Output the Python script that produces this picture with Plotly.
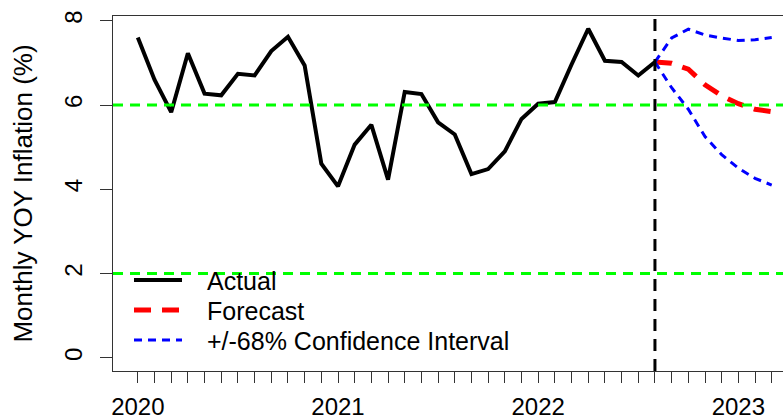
import plotly.graph_objects as go

# ---- data ----
start_year = 2020
actual_values = [7.60, 6.60, 5.83, 7.23, 6.27, 6.23, 6.74, 6.70, 7.28, 7.62, 6.94, 4.61,
                 4.07, 5.06, 5.53, 4.23, 6.31, 6.26, 5.59, 5.30, 4.36, 4.48, 4.90, 5.67,
                 6.03, 6.07, 6.96, 7.81, 7.05, 7.02, 6.70, 7.02]
forecast_start_index = 31  # Aug 2022
forecast_values = [7.02, 6.99, 6.85, 6.48, 6.22, 6.03, 5.90, 5.84]
ci_upper_values = [7.02, 7.59, 7.80, 7.66, 7.59, 7.53, 7.55, 7.60]
ci_lower_values = [7.02, 6.41, 5.90, 5.25, 4.82, 4.50, 4.26, 4.10]
target_levels = [2, 6]
n_tick_months = 39
year_labels = ["2020", "2021", "2022", "2023"]
y_ticks = [0, 2, 4, 6, 8]
legend_labels = ["Actual", "Forecast", "+/-68% Confidence Interval"]

FONT = "Liberation Sans, Arial, sans-serif"

ACTUAL_LINE = dict(color="black", width=4)
FC_LINE = dict(color="#FF0000", width=5, dash="17px,11px")
CI_LINE = dict(color="#0000FF", width=3, dash="8px,6px")


def t(i):
    return start_year + i / 12.0


x_actual = [t(i) for i in range(len(actual_values))]
x_fc = [t(forecast_start_index + i) for i in range(len(forecast_values))]

fig = go.Figure()
fig.add_trace(go.Scatter(x=x_actual, y=actual_values, mode="lines", name=legend_labels[0],
                         line=ACTUAL_LINE, showlegend=False))
fig.add_trace(go.Scatter(x=x_fc, y=forecast_values, mode="lines", name=legend_labels[1],
                         line=FC_LINE, showlegend=False))
fig.add_trace(go.Scatter(x=x_fc, y=ci_upper_values, mode="lines", name=legend_labels[2],
                         line=CI_LINE, showlegend=False))
fig.add_trace(go.Scatter(x=x_fc, y=ci_lower_values, mode="lines", name=legend_labels[2] + " (lower)",
                         line=CI_LINE, showlegend=False))

for lv in target_levels:
    fig.add_hline(y=lv, line=dict(color="#00FF00", width=3, dash="10px,7px"), layer="above")
fig.add_vline(x=t(forecast_start_index), line=dict(color="black", width=3, dash="12px,8px"),
              layer="above")

# ---- legend (R-style, no box) ----
plot_l, plot_w, plot_b, plot_h = 113, 670, 371, 355


def px_x(p):
    return (p - plot_l) / plot_w


def px_y(p):
    return (plot_b - p) / plot_h


legend_rows = [280, 310, 340]
legend_styles = [ACTUAL_LINE, FC_LINE, CI_LINE]
for label, row, style in zip(legend_labels, legend_rows, legend_styles):
    fig.add_shape(type="line", xref="paper", yref="paper",
                  x0=px_x(134), x1=px_x(182), y0=px_y(row), y1=px_y(row),
                  line=style, layer="above")
    fig.add_annotation(text=label, xref="paper", yref="paper",
                       x=px_x(205), y=px_y(row + 1), xanchor="left", yanchor="middle",
                       showarrow=False, font=dict(size=25, family=FONT, color="black"))

tickvals = [t(i) for i in range(n_tick_months)]
ticktext = [year_labels[i // 12] if i % 12 == 0 else "" for i in range(n_tick_months)]

fig.update_layout(
    width=783, height=420,
    margin=dict(l=113, r=0, t=16, b=49),
    plot_bgcolor="white", paper_bgcolor="white",
    font=dict(family=FONT, size=24, color="black"),
    showlegend=False,
    xaxis=dict(range=[2019.876, 2023.223], tickmode="array", tickvals=tickvals,
               ticktext=ticktext, ticks="outside", ticklen=11, tickwidth=1,
               tickcolor="#333", showline=True, linecolor="#333", linewidth=1,
               mirror=True, showgrid=False, zeroline=False, ticklabelstandoff=3,
               tickfont=dict(size=24, family=FONT)),
    yaxis=dict(range=[-0.312, 8.112], tickmode="array", tickvals=y_ticks,
               ticks="outside", ticklen=12, tickwidth=1, tickcolor="#333",
               showline=True, linecolor="#333", linewidth=1, mirror=False,
               showgrid=False, zeroline=False, tickangle=-90, ticklabelstandoff=8,
               tickfont=dict(size=24, family=FONT),
               title=dict(text="Monthly YOY Inflation (%)", font=dict(size=26, family=FONT),
                          standoff=20)),
)

fig.write_html("out.html")
